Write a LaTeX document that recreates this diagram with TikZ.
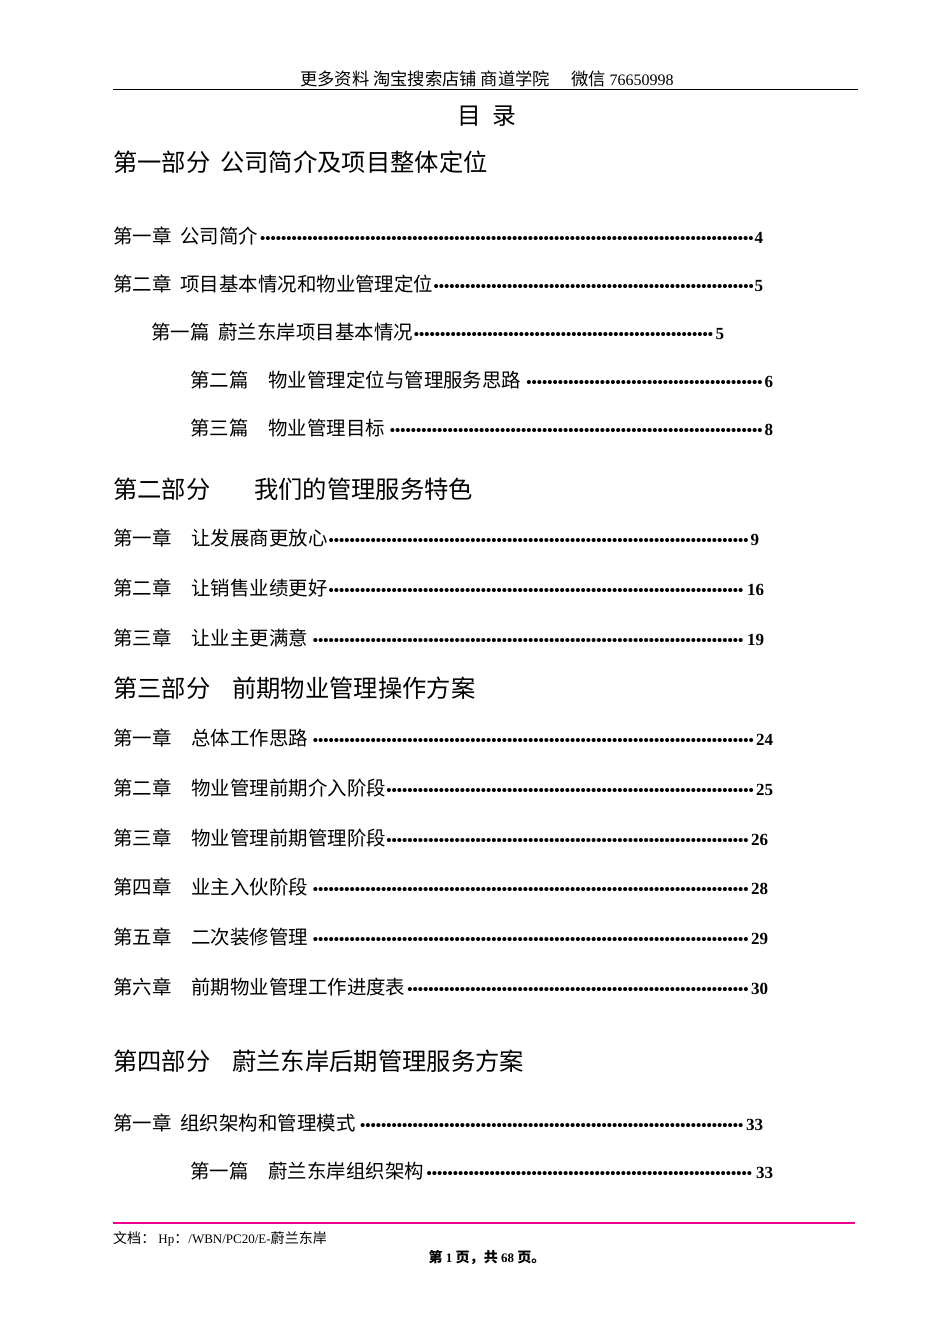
\documentclass[tikz,border=0pt]{standalone}
\usepackage{fontspec}
\setmainfont{Liberation Serif}
\newfontfamily\cjk{Noto Sans CJK SC}[Scale=1.08]
\newcommand{\tocentry}[5]{\node[anchor=base west,inner sep=0pt] at (#1,#2) {\fontsize{18}{18}\selectfont\hbox to \dimexpr#5pt-#1pt\relax{\cjk #3\bfseries\rmfamily\leaders\hbox{\fontsize{15}{15}\selectfont •}\hfill\fontsize{17}{17}\selectfont #4}};}
\begin{document}
\begin{tikzpicture}[x=1pt,y=-1pt,
  part/.style={anchor=base west,inner sep=0pt,font=\cjk\fontsize{22.5}{22}\selectfont}]
\useasboundingbox[fill=white] (0,0) rectangle (950,1344);
\node[inner sep=0pt] (hdr) at (487,79) {\fontsize{16}{16}\selectfont\cjk 更多资料\ 淘宝搜索店铺\ 商道学院\quad\ 微信\ \rmfamily 76650998};
\draw[line width=1pt] (113,89) -- (858,89);
\node[inner sep=0pt] (ml) at (487,116) {\cjk\fontsize{22}{22}\selectfont 目\ \ 录};
\node[part] (p1) at (113,171) {第一部分\hspace{10pt}公司简介及项目整体定位};
\tocentry{113}{243}{第一章\hspace{9pt}公司简介}{4}{763}
\tocentry{113}{291}{第二章\hspace{9pt}项目基本情况和物业管理定位}{5}{763}
\tocentry{151}{339}{第一篇\hspace{9pt}蔚兰东岸项目基本情况}{5}{724}
\tocentry{190}{387}{第二篇\hspace{20pt}物业管理定位与管理服务思路}{6}{773}
\tocentry{190}{435}{第三篇\hspace{20pt}物业管理目标}{8}{773}
\node[part] (p2) at (113,498) {第二部分\hspace{44pt}我们的管理服务特色};
\tocentry{113}{545}{第一章\hspace{20pt}让发展商更放心}{9}{759}
\tocentry{113}{595}{第二章\hspace{20pt}让销售业绩更好}{16}{764}
\tocentry{113}{645}{第三章\hspace{20pt}让业主更满意}{19}{764}
\node[part] (p3) at (113,697) {第三部分\hspace{22pt}前期物业管理操作方案};
\tocentry{113}{745}{第一章\hspace{20pt}总体工作思路}{24}{773}
\tocentry{113}{795}{第二章\hspace{20pt}物业管理前期介入阶段}{25}{773}
\tocentry{113}{845}{第三章\hspace{20pt}物业管理前期管理阶段}{26}{768}
\tocentry{113}{894}{第四章\hspace{20pt}业主入伙阶段}{28}{768}
\tocentry{113}{944}{第五章\hspace{20pt}二次装修管理}{29}{768}
\tocentry{113}{994}{第六章\hspace{20pt}前期物业管理工作进度表}{30}{768}
\node[part] (p4) at (113,1070) {第四部分\hspace{22pt}蔚兰东岸后期管理服务方案};
\tocentry{113}{1130}{第一章\hspace{9pt}组织架构和管理模式}{33}{763}
\tocentry{190}{1178}{第一篇\hspace{20pt}蔚兰东岸组织架构}{33}{773}
\draw[magenta,line width=1.5pt] (113,1223) -- (855,1223);
\node[anchor=base west,inner sep=0pt] (ft) at (113,1243) {\fontsize{13}{13}\selectfont\cjk 文档：\ \rmfamily Hp\cjk ：\rmfamily /WBN/PC20/E-\cjk 蔚兰东岸};
\node[inner sep=0pt] (pg) at (487,1257) {\fontsize{13}{13}\selectfont\bfseries\cjk 第 \rmfamily 1 \cjk 页，共 \rmfamily 68 \cjk 页。};
\end{tikzpicture}
\end{document}
